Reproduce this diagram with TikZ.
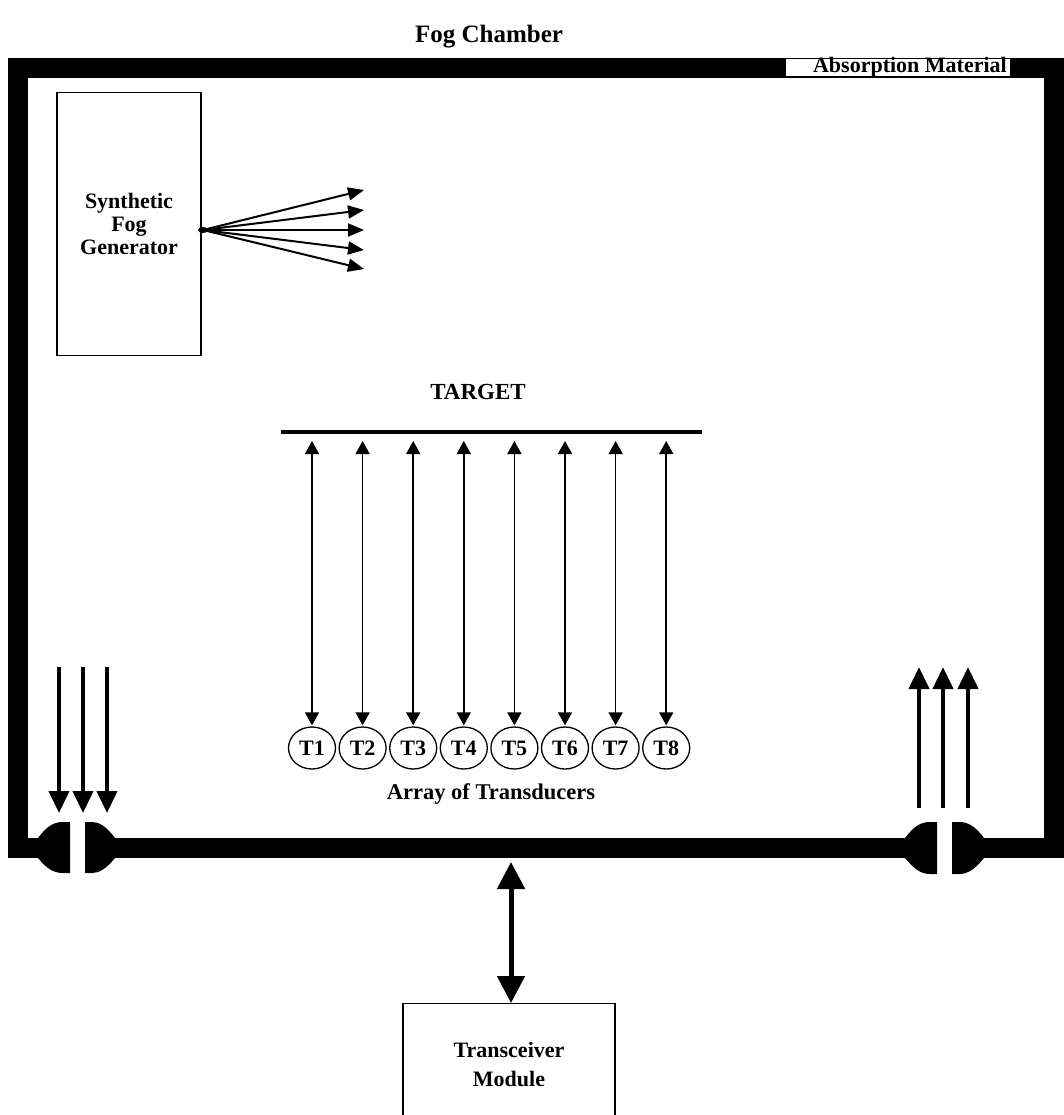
\documentclass[tikz,border=0pt]{standalone}
\usepackage{fontspec}
\setmainfont{Liberation Serif}
\usetikzlibrary{arrows.meta,shapes.geometric}
\begin{document}
\begin{tikzpicture}[x=1pt,y=-1pt,
  lbl/.style={font=\bfseries\fontsize{22.5}{23}\selectfont, inner sep=0pt, align=center},
  boxnode/.style={draw, line width=1.3pt, inner sep=0pt, align=center, font=\bfseries\fontsize{22}{23}\selectfont},
  wall/.style={line width=20pt},
  tdx/.style={draw, ellipse, line width=1.3pt, minimum width=47pt, minimum height=42pt, inner sep=0pt, font=\bfseries\fontsize{22}{22}\selectfont},
  thinarrow/.style={line width=1.5pt, {Triangle[length=13pt,width=14pt]}-{Triangle[length=13pt,width=14pt]}},
  fogarrow/.style={line width=2pt, -{Triangle[length=16pt,width=13pt]}},
  flowarrow/.style={line width=4pt, -{Triangle[length=22pt,width=20pt]}},
  bigarrow/.style={line width=5pt, {Triangle[length=27pt,width=27pt]}-{Triangle[length=27pt,width=27pt]}},
  port/.style={fill=black}
]
\clip (0,0) rectangle (1064,1115);
\fill[white] (0,0) rectangle (1064,1115);

% title
\node[lbl, font=\bfseries\fontsize{25}{26}\selectfont] (title) at (489,37) {Fog Chamber};

% chamber wall
\draw[wall] (18,68) rectangle (1054,848);
\node[fill=white, inner xsep=3pt, inner ysep=0pt, minimum height=17pt, text height=13pt, text depth=4pt,
      anchor=east, font=\bfseries\fontsize{22}{22}\selectfont] (absorb) at (1010,68) {\hspace{24pt}Absorption Material};

% ports: white gaps and half shapes
\fill[white] (70,812) rectangle (85,884);
\fill[white] (937,812) rectangle (952,884);
\fill[port] (38,838) .. controls (47,826) and (54,822) .. (63,822) -- (70,822) -- (70,873) -- (63,873) .. controls (54,873) and (47,869) .. (38,858) -- cycle;
\fill[port] (115,838) .. controls (106,826) and (99,822) .. (92,822) -- (85,822) -- (85,873) -- (92,873) .. controls (99,873) and (106,869) .. (115,858) -- cycle;
\fill[port] (905,838) .. controls (914,826) and (921,822) .. (930,822) -- (937,822) -- (937,874) -- (930,874) .. controls (921,874) and (914,869) .. (905,858) -- cycle;
\fill[port] (984,838) .. controls (975,826) and (968,822) .. (959,822) -- (952,822) -- (952,874) -- (959,874) .. controls (968,874) and (975,869) .. (984,858) -- cycle;

% inflow arrows (left)
\foreach \i/\x in {1/59,2/83,3/107}{
  \coordinate (in\i s) at (\x,667);
  \coordinate (in\i e) at (\x,813);
  \draw[flowarrow] (in\i s) -- (in\i e);
}
% outflow arrows (right)
\foreach \i/\x in {1/919,2/943,3/968}{
  \coordinate (out\i s) at (\x,808);
  \coordinate (out\i e) at (\x,667);
  \draw[flowarrow] (out\i s) -- (out\i e);
}

% synthetic fog generator
\node[boxnode, minimum width=144pt, minimum height=263pt] (fog) at (129,224) {Synthetic\\Fog\\Generator};
\coordinate (fogsrc) at (203,230);
\fill (fogsrc) ellipse (5pt and 3pt);
\foreach \i/\y in {1/190,2/210,3/230,4/250,5/269}{
  \coordinate (fogtip\i) at (364,\y);
  \draw[fogarrow] (fogsrc) -- (fogtip\i);
}

% target
\node[lbl, font=\bfseries\fontsize{23}{23}\selectfont] (targetlbl) at (478,392) {TARGET};
\coordinate (tgtl) at (281,432);
\coordinate (tgtr) at (702,432);
\draw[line width=3.5pt] (tgtl) -- (tgtr);

% transducers
\foreach \i in {1,...,8}{
  \pgfmathsetmacro{\xx}{312+50.6*(\i-1)}
  \node[tdx] (T\i) at (\xx,748) {T\i};
  \coordinate (a\i) at (\xx,441);
  \draw[thinarrow, shorten >=1pt] (a\i) -- (T\i.north);
}
\node[lbl] (arraylbl) at (491,794) {Array of Transducers};

% transceiver module
\node[boxnode, anchor=north, minimum width=212pt, minimum height=121pt, font=\bfseries\fontsize{22}{29}\selectfont] (trx) at (509,1003) {Transceiver\\Module};
\coordinate (wallport) at (511,862);
\draw[bigarrow] (wallport) -- (trx.north -| wallport);
\end{tikzpicture}
\end{document}
